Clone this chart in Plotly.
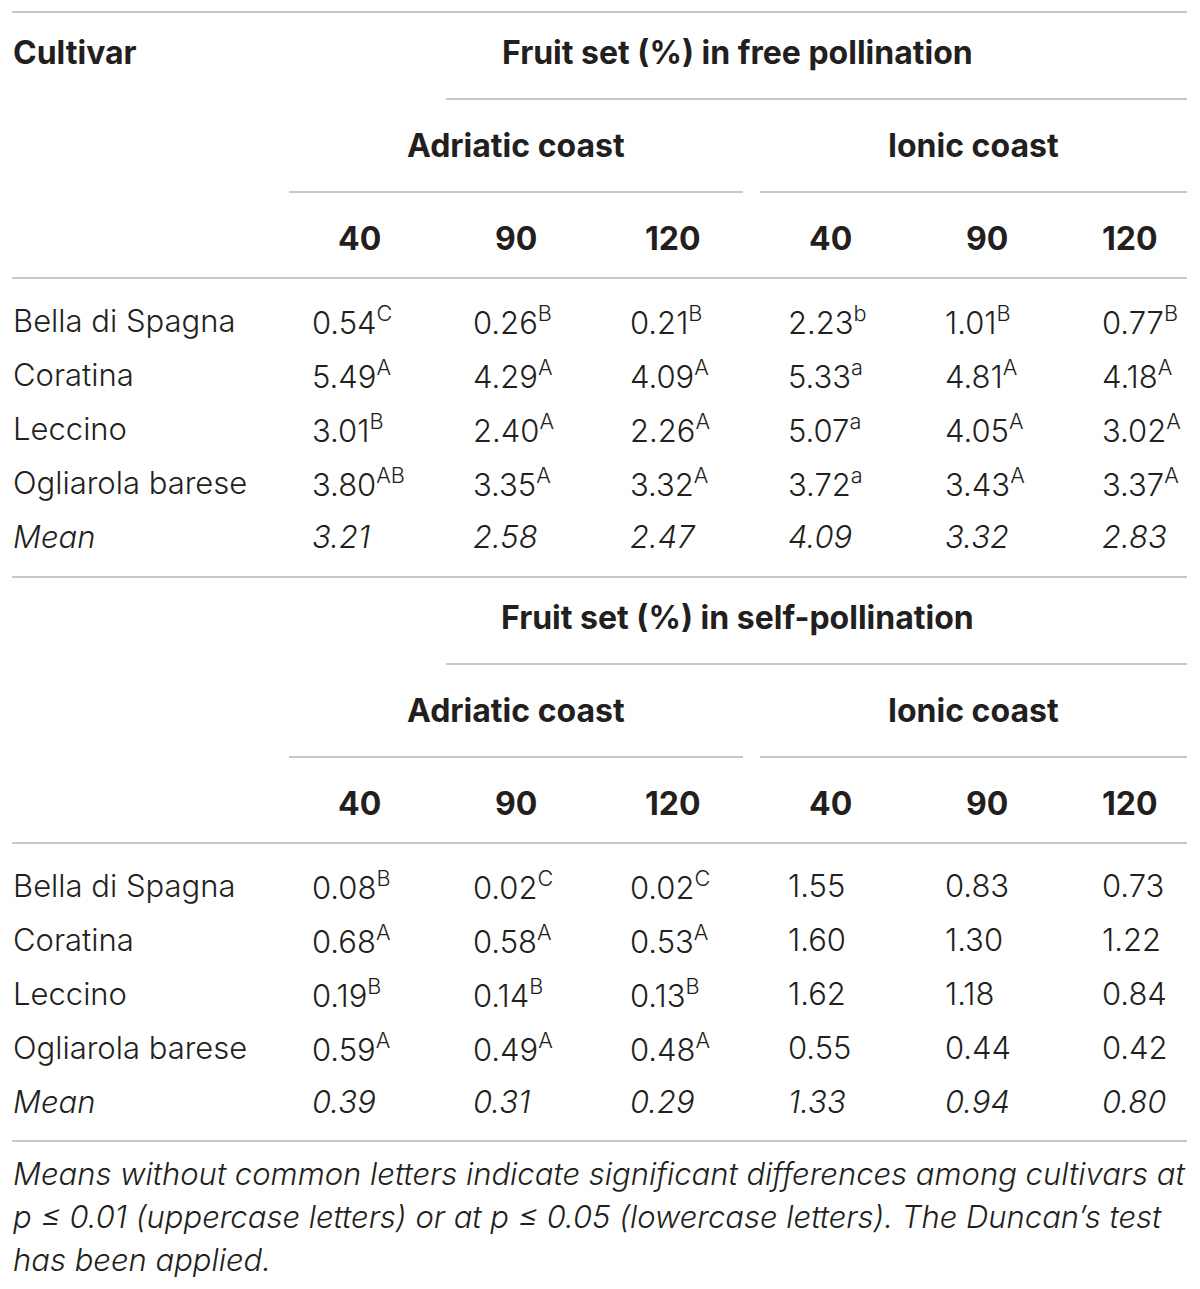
import plotly.graph_objects as go

# table content
cultivars = ["Bella di Spagna", "Coratina", "Leccino", "Ogliarola barese"]
coasts = ["Adriatic coast", "Ionic coast"]
doses = ["40", "90", "120"]

free_values = [
    [0.54, 0.26, 0.21, 2.23, 1.01, 0.77],
    [5.49, 4.29, 4.09, 5.33, 4.81, 4.18],
    [3.01, 2.40, 2.26, 5.07, 4.05, 3.02],
    [3.80, 3.35, 3.32, 3.72, 3.43, 3.37],
]
free_letters = [
    ["C", "B", "B", "b", "B", "B"],
    ["A", "A", "A", "a", "A", "A"],
    ["B", "A", "A", "a", "A", "A"],
    ["AB", "A", "A", "a", "A", "A"],
]
free_means = [3.21, 2.58, 2.47, 4.09, 3.32, 2.83]

self_values = [
    [0.08, 0.02, 0.02, 1.55, 0.83, 0.73],
    [0.68, 0.58, 0.53, 1.60, 1.30, 1.22],
    [0.19, 0.14, 0.13, 1.62, 1.18, 0.84],
    [0.59, 0.49, 0.48, 0.55, 0.44, 0.42],
]
self_letters = [
    ["B", "C", "C", "", "", ""],
    ["A", "A", "A", "", "", ""],
    ["B", "B", "B", "", "", ""],
    ["A", "A", "A", "", "", ""],
]
self_means = [0.39, 0.31, 0.29, 1.33, 0.94, 0.80]

footnote = [
    "Means without common letters indicate significant differences among cultivars at",
    "p ≤ 0.01 (uppercase letters) or at p ≤ 0.05 (lowercase letters). The Duncan’s test",
    "has been applied.",
]

# page geometry in pixels; the page body has an 8px margin, so the axes start at 8
W, H = 1200, 1289
PAD = 8
LEFT, RIGHT = 12, 1187
value_x = [311, 472, 629, 787, 944, 1101]
head_x = [359, 516, 673, 830, 987, 1130]
coast_x = [516, 973]
coast_span = [(289, 743), (760, 1187)]
TEXT = "#231f20"
RULE = "#c8c8c8"
FONT = "Inter"
FS = 31      # body cells
FS_HEAD = 32  # bold headings

fig = go.Figure()


def txt(x, y, s, anchor="left", bold=False, size=FS, weight=300):
    fig.add_annotation(x=x, y=y, text=s, showarrow=False, xanchor=anchor, yanchor="middle",
                       borderpad=0,
                       font=dict(family=FONT, size=size, color=TEXT,
                                 weight=700 if bold else weight),
                       xref="x", yref="y")


def rule(x0, x1, y):
    fig.add_shape(type="line", x0=x0, x1=x1, y0=y, y1=y, xref="x", yref="y",
                  line=dict(color=RULE, width=2))


def section(top, title, values, letters, means, first):
    rule(LEFT, RIGHT, top)
    if first:
        txt(12, top + 40, "Cultivar", bold=True, size=FS_HEAD)
    txt(737, top + 40, title, anchor="center", bold=True, size=FS_HEAD)
    rule(446, RIGHT, top + 87)
    for cx, name, (a, b) in zip(coast_x, coasts, coast_span):
        txt(cx, top + 133, name, anchor="center", bold=True, size=FS_HEAD)
        rule(a, b, top + 180)
    for j, hx in enumerate(head_x):
        txt(hx, top + 226, doses[j % 3], anchor="center", bold=True, size=FS_HEAD)
    rule(LEFT, RIGHT, top + 266)
    for i, name in enumerate(cultivars):
        y = top + 308 + 54 * i
        txt(12, y, name)
        for j, vx in enumerate(value_x):
            s = f"{values[i][j]:.2f}"
            if letters[i][j]:
                s += "<sup>" + letters[i][j] + "</sup>"
            txt(vx, y, s)
    y = top + 308 + 54 * len(cultivars)
    txt(12, y, "<i>Mean</i>")
    for j, vx in enumerate(value_x):
        txt(vx, y, f"<i>{means[j]:.2f}</i>")


section(12, "Fruit set (%) in free pollination", free_values, free_letters, free_means, True)
section(577, "Fruit set (%) in self-pollination", self_values, self_letters, self_means, False)
rule(LEFT, RIGHT, 1141)

for k, line in enumerate(footnote):
    txt(12, 1173 + 43 * k, "<i>" + line + "</i>", size=31)

fig.update_xaxes(range=[PAD, W - PAD], visible=False, fixedrange=True)
fig.update_yaxes(range=[H - PAD, PAD], visible=False, fixedrange=True)
fig.update_layout(width=W - 2 * PAD, height=H - 2 * PAD, margin=dict(l=0, r=0, t=0, b=0),
                  plot_bgcolor="white", paper_bgcolor="white", showlegend=False)
fig.write_html("out.html")
